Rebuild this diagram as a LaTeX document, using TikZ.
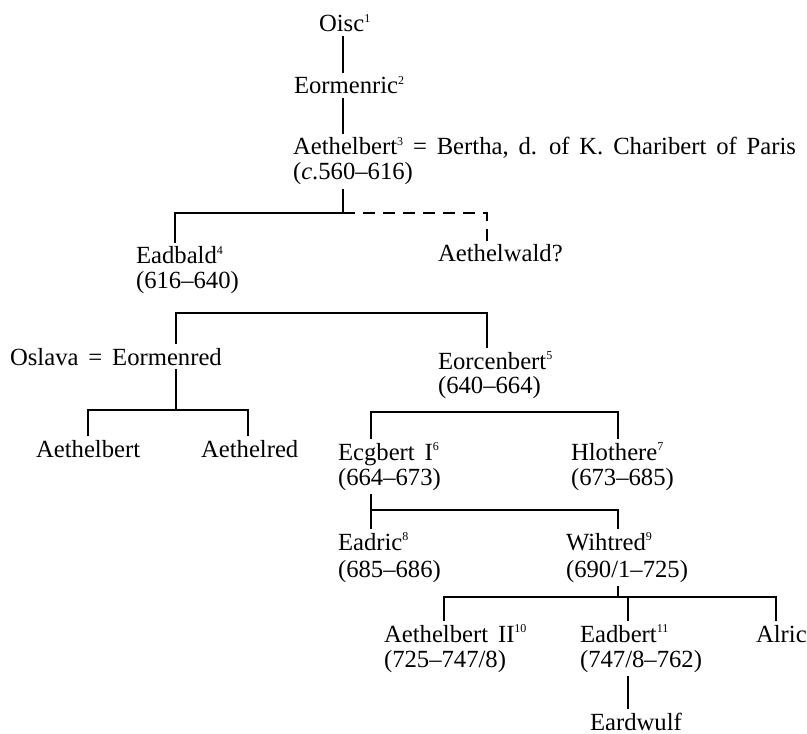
\documentclass[tikz,border=0pt]{standalone}
\usepackage{fontspec}
\setmainfont[WordSpace=1.6]{Liberation Serif}
\usepackage{tikz}
\newcommand{\supnum}[1]{\raisebox{0.8ex}{\fontsize{9}{9}\selectfont #1}}

\begin{document}
\begin{tikzpicture}[x=0.75pt, y=-0.75pt, line width=1.1pt,
    person/.style={anchor=base west, inner sep=2.5pt, font=\fontsize{18.5}{22}\selectfont},
    doubt/.style={dash pattern=on 9pt off 6pt}]
    \useasboundingbox (0,0) rectangle (807,734);

    % Oisc -- Aethelbert
    \node[person] (oisc) at (315,32) {Oisc\supnum{1}};
    \node[person] (eormenric) at (290,94) {Eormenric\supnum{2}};
    \node[person] (aethelbert) at (289,155) {Aethelbert\supnum{3} = Bertha, d. of K. Charibert of Paris};
    \node[person] (aethelbert-d) at (289,180) {(\textit{c}.560--616)};

    % Eadbald, Aethelwald
    \node[person] (eadbald) at (132,264) {Eadbald\supnum{4}};
    \node[person] (eadbald-d) at (132,289) {(616--640)};
    \node[person] (aethelwald) at (434,262) {Aethelwald?};

    % Eormenred, Eorcenbert
    \node[person] (eormenred) at (6,365) {Oslava = Eormenred};
    \node[person] (eorcenbert) at (434,369) {Eorcenbert\supnum{5}};
    \node[person] (eorcenbert-d) at (434,393) {(640--664)};
    \node[person] (aethelbert-a) at (32,457) {Aethelbert};
    \node[person] (aethelred) at (197,457) {Aethelred};

    % Ecgbert I, Hlothere
    \node[person] (ecgbert) at (334,460) {Ecgbert I\supnum{6}};
    \node[person] (ecgbert-d) at (334,485) {(664--673)};
    \node[person] (hlothere) at (567,460) {Hlothere\supnum{7}};
    \node[person] (hlothere-d) at (567,485) {(673--685)};

    % Eadric, Wihtred
    \node[person] (eadric) at (334,550) {Eadric\supnum{8}};
    \node[person] (eadric-d) at (334,577) {(685--686)};
    \node[person] (wihtred) at (562,550) {Wihtred\supnum{9}};
    \node[person] (wihtred-d) at (562,577) {(690/1--725)};

    % con của Wihtred
    \node[person] (aethelbert2) at (380,642) {Aethelbert II\supnum{10}};
    \node[person] (aethelbert2-d) at (380,667) {(725--747/8)};
    \node[person] (eadbert) at (576,642) {Eadbert\supnum{11}};
    \node[person] (eadbert-d) at (576,667) {(747/8--762)};
    \node[person] (alric) at (752,642) {Alric};
    \node[person] (eardwulf) at (586,730) {Eardwulf};

    % Các thanh nối
    \coordinate (s0) at (343,0);
    \coordinate (b1) at (343,213);
    \coordinate (b1l) at (175,213);
    \coordinate (b1r) at (487,213);
    \coordinate (b2l) at (176,313);
    \coordinate (b2r) at (487,313);
    \coordinate (b3) at (176,410);
    \coordinate (b3l) at (88,410);
    \coordinate (b3r) at (248,410);
    \coordinate (b4l) at (371,412);
    \coordinate (b4r) at (618,412);
    \coordinate (b5l) at (371,510);
    \coordinate (b5r) at (618,510);
    \coordinate (b6) at (618,597);
    \coordinate (b6l) at (444,597);
    \coordinate (b6m) at (628,597);
    \coordinate (b6r) at (776,597);

    \draw (oisc.south -| s0) -- (eormenric.north -| s0);
    \draw (eormenric.south -| s0) -- (aethelbert.north -| s0);
    \draw (aethelbert-d.south -| b1) -- (b1) -- (b1l) -- (eadbald.north -| b1l);
    \draw[doubt] (b1) -- (b1r) -- (aethelwald.north -| b1r);
    \draw (eormenred.north -| b2l) -- (b2l) -- (b2r) -- (eorcenbert.north -| b2r);
    \draw (eormenred.south -| b3) -- (b3);
    \draw (aethelbert-a.north -| b3l) -- (b3l) -- (b3r) -- (aethelred.north -| b3r);
    \draw (ecgbert.north -| b4l) -- (b4l) -- (b4r) -- (hlothere.north -| b4r);
    \draw (ecgbert-d.south -| b5l) -- (eadric.north -| b5l);
    \draw (b5l) -- (b5r) -- (wihtred.north -| b5r);
    \draw (wihtred-d.south -| b6) -- (b6);
    \draw (aethelbert2.north -| b6l) -- (b6l) -- (b6r) -- (alric.north -| b6r);
    \draw (b6m) -- (eadbert.north -| b6m);
    \draw (eadbert-d.south -| b6m) -- (eardwulf.north -| b6m);
\end{tikzpicture}
\end{document}
